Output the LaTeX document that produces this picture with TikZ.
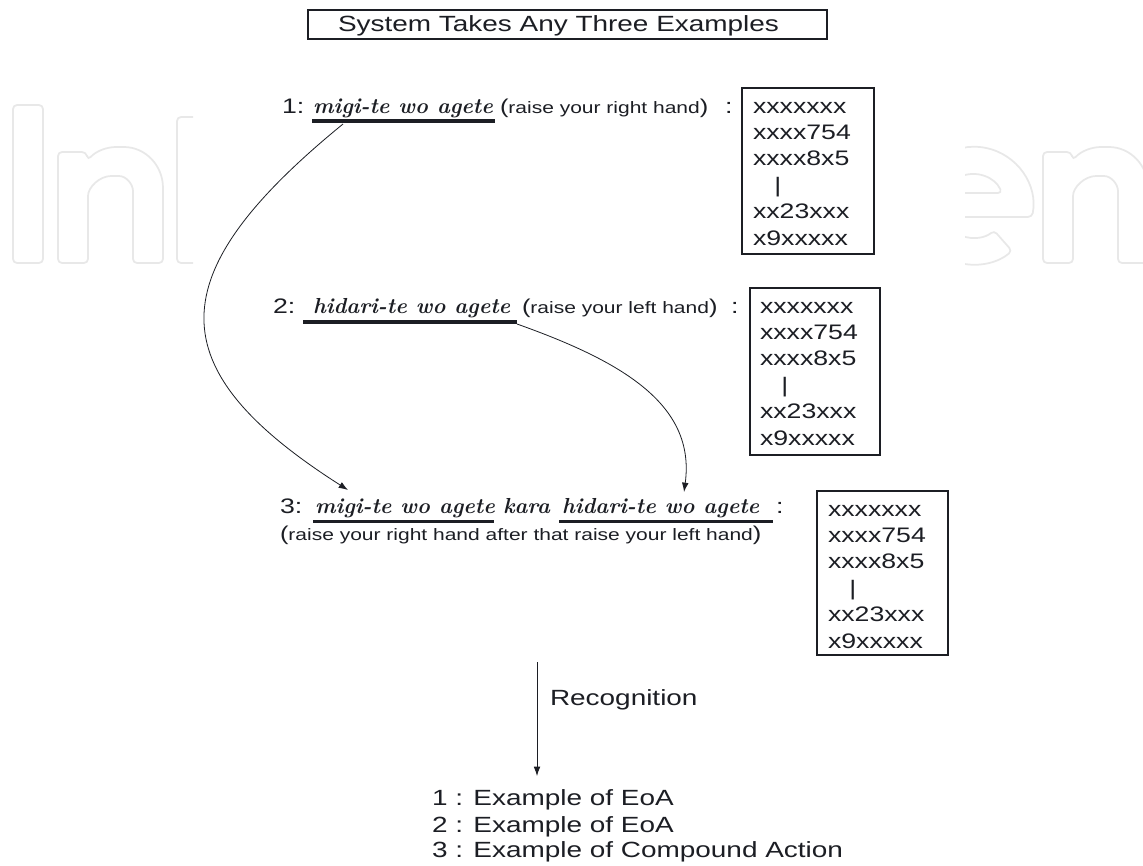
\documentclass[tikz,border=0pt]{standalone}
\usepackage{fontspec}
\usepackage{graphicx}
\usetikzlibrary{arrows.meta}
\newfontfamily\arial{Liberation Sans}
\newcommand\sx[1]{\scalebox{1.27}[1]{#1}}
\newcommand\paren[1]{\sx{{\fontsize{15}{18}\selectfont(}{\fontsize{12.4}{15}\selectfont #1}{\fontsize{15}{18}\selectfont)}}}
\newcommand\boxlines{\sx{\vtop{\baselineskip=19.8pt\lineskiplimit=-30pt\hbox{xxxxxxx}\hbox{xxxx754}\hbox{xxxx8x5}\hbox{\hspace*{0.8em}|}\hbox{xx23xxx}\hbox{x9xxxxx}}}}
\newcommand\wmletn{(58,263) -- (58,152) -- (86,152) -- (88,160) .. controls (96,151) and (107,147) .. (120,147) .. controls (145,147) and (163,165) .. (163,192) -- (163,263) -- (133,263) -- (133,195) .. controls (133,184) and (126,176) .. (115,176) .. controls (100,176) and (88,187) .. (88,200) -- (88,263) -- cycle}
\definecolor{ink}{RGB}{28,30,36}
\definecolor{wmgray}{RGB}{232,232,232}
\begin{document}
\begin{tikzpicture}[x=0.75pt,y=-0.75pt,
  every node/.style={inner sep=0pt, outer sep=0pt, text=ink},
  sans/.style={font=\arial\fontsize{15.75}{19}\selectfont, anchor=base west},
  big/.style={font=\arial\fontsize{16.5}{20}\selectfont, anchor=base west},
  paren/.style={font=\arial, anchor=base west},
  ital/.style={font=\fontsize{16.3}{19}\selectfont\bfseries\itshape, anchor=base west},
  frame/.style={draw=ink, line width=1.1pt, anchor=north west},
  boxtxt/.style={font=\arial\fontsize{15.75}{19.8}\selectfont, anchor=base west},
  uline/.style={line width=2.5pt, draw=ink},
  curve/.style={draw=ink, line width=0.6pt, -{Latex[length=7pt,width=5pt]}},
  wm/.style={draw=wmgray, line width=1.3pt, rounded corners=3pt},
]
\useasboundingbox[fill=white] (0,0) rectangle (1143,865);

% faint watermark letters, visible only at the sides
\begin{scope}
  \clip (0,0) rectangle (193,865);
  \draw[wm] (13,105) rectangle (43,263);
  \draw[wm] \wmletn;
  \draw[wm] (200,117) -- (177,117) -- (177,263) -- (200,263);
\end{scope}
\begin{scope}
  \clip (965,0) rectangle (1143,865);
  \draw[wm] (1032,217) arc[start angle=11, end angle=-310, radius=59]
            -- (994,230.5) arc[start angle=50, end angle=160, radius=32] -- cycle;
  \draw[wm] (944,193) -- (1002,193) arc[start angle=-24, end angle=-156, radius=32] -- cycle;
  \draw[wm, shift={(985,0)}] \wmletn;
\end{scope}

% title
\node[frame, minimum width=389.25pt, minimum height=21.75pt] (titlebox) at (308,10) {};
\node[big] (title) at (338,31.5) {\sx{System Takes Any Three Examples}};

% example 1
\node[sans] (n1) at (282,113) {\sx{1:}};
\node[ital] (m1) at (313,113) {migi-te wo agete};
\node[paren] (p1) at (500,113) {\paren{raise your right hand}};
\node[sans] (c1) at (725,113) {\sx{:}};
\node[frame, minimum width=99pt, minimum height=124.5pt] (b1) at (742,88) {};
\node[boxtxt] (t1) at (753,113) {\boxlines};
\draw[uline] (312,121) -- (495,121);

% example 2
\node[sans] (n2) at (273,313) {\sx{2:}};
\node[ital] (m2) at (313,313) {hidari-te wo agete};
\node[paren] (p2) at (522,313) {\paren{raise your left hand}};
\node[sans] (c2) at (731,313) {\sx{:}};
\node[frame, minimum width=97.5pt, minimum height=125.25pt] (b2) at (750,288) {};
\node[boxtxt] (t2) at (760,313) {\boxlines};
\draw[uline] (303,322) -- (517,322);

% example 3
\node[sans] (n3) at (280,513) {\sx{3:}};
\node[ital] (m3) at (315,513) {migi-te wo agete};
\node[ital] (k3) at (503,513) {kara};
\node[ital] (h3) at (562,513) {hidari-te wo agete};
\node[sans] (c3) at (776,513) {\sx{:}};
\node[paren] (p3) at (280,540) {\paren{raise your right hand after that raise your left hand}};
\node[frame, minimum width=98.25pt, minimum height=123pt] (b3) at (817,491) {};
\node[boxtxt] (t3) at (828,516) {\boxlines};
\draw[uline] (313,521.5) -- (494,521.5);
\draw[uline] (559,521.5) -- (773,521.5);

% curved connectors
\coordinate (a1) at (343,124);
\coordinate (a2) at (348,490);
\coordinate (d1) at (517,324);
\coordinate (d2) at (684,492);
\draw[curve] (a1) .. controls (158,275) and (158,369) .. (a2);
\draw[curve] (d1) .. controls (621,361) and (696,404) .. (d2);

% recognition
\coordinate (r1) at (537,662);
\coordinate (r2) at (537,776);
\draw[curve] (r1) -- (r2);
\node[big] (rec) at (550,705) {\sx{Recognition}};

\node[big] (o1) at (432,805) {\sx{1 : Example of EoA}};
\node[big] (o2) at (432,832) {\sx{2 : Example of EoA}};
\node[big] (o3) at (432,857) {\sx{3 : Example of Compound Action}};
\end{tikzpicture}
\end{document}
